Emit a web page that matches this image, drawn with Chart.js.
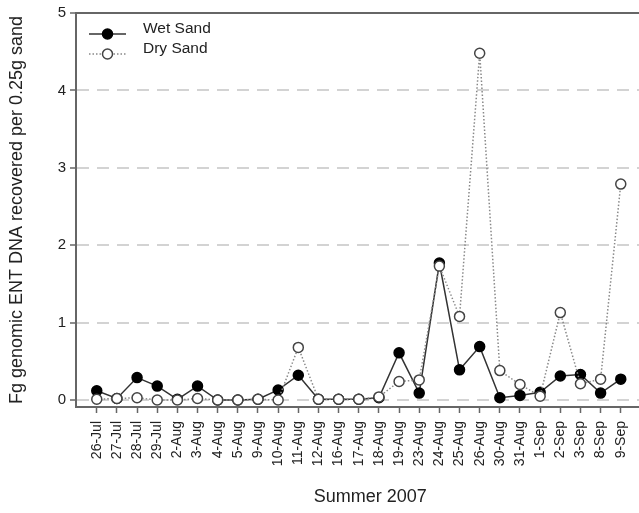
<!DOCTYPE html>
<html>
<head>
<meta charset="utf-8">
<script src="https://cdn.jsdelivr.net/npm/chart.js@4"></script>
<style>
  html, body { margin: 0; padding: 0; overflow: hidden; background: #fff; }
  canvas { display: block; }
</style>
</head>
<body>
<canvas id="chart" width="671" height="513"></canvas>
<script>
const dates = ['26-Jul', '27-Jul', '28-Jul', '29-Jul', '2-Aug', '3-Aug', '4-Aug', '5-Aug', '9-Aug',
    '10-Aug', '11-Aug', '12-Aug', '16-Aug', '17-Aug', '18-Aug', '19-Aug', '23-Aug', '24-Aug',
    '25-Aug', '26-Aug', '30-Aug', '31-Aug', '1-Sep', '2-Sep', '3-Sep', '8-Sep', '9-Sep'];
const wetSand = [0.12, 0.02, 0.29, 0.18, 0.01, 0.18, 0.0, 0.0, 0.01,
    0.13, 0.32, 0.01, 0.01, 0.01, 0.03, 0.61, 0.09, 1.77,
    0.39, 0.69, 0.03, 0.06, 0.10, 0.31, 0.33, 0.09, 0.27];
const drySand = [0.01, 0.02, 0.03, 0.0, 0.0, 0.02, 0.0, 0.0, 0.01,
    0.0, 0.68, 0.01, 0.01, 0.01, 0.04, 0.24, 0.26, 1.73,
    1.08, 4.48, 0.38, 0.20, 0.05, 1.13, 0.21, 0.27, 2.79];
const yTicks = [0, 1, 2, 3, 4, 5];

const family = '"Liberation Sans", Arial, sans-serif';

// legend drawn inside the plot, top left
const legendBox = {
    id: 'legendBox',
    afterDraw(chart) {
        const ctx = chart.ctx;
        const rows = [
            { ds: chart.data.datasets[1], y: 34 },
            { ds: chart.data.datasets[0], y: 54 }
        ];
        ctx.save();
        rows.forEach(r => {
            ctx.beginPath();
            ctx.setLineDash(r.ds.borderDash || []);
            ctx.lineWidth = r.ds.borderWidth;
            ctx.strokeStyle = r.ds.borderColor;
            ctx.moveTo(89, r.y);
            ctx.lineTo(126, r.y);
            ctx.stroke();
            ctx.setLineDash([]);
            ctx.beginPath();
            ctx.arc(107.5, r.y, r.ds.pointRadius, 0, Math.PI * 2);
            ctx.fillStyle = r.ds.pointBackgroundColor;
            ctx.fill();
            ctx.lineWidth = r.ds.pointBorderWidth;
            ctx.strokeStyle = r.ds.pointBorderColor;
            ctx.stroke();
            ctx.fillStyle = '#222';
            ctx.font = '15.5px ' + family;
            ctx.textBaseline = 'alphabetic';
            ctx.fillText(r.ds.label, 143, r.y - 1);
        });
        // top frame line
        const a = chart.chartArea;
        ctx.beginPath();
        ctx.lineWidth = 2;
        ctx.strokeStyle = '#666';
        ctx.moveTo(a.left - 1, a.top);
        ctx.lineTo(chart.width, a.top);
        ctx.stroke();
        ctx.restore();
    }
};

new Chart(document.getElementById('chart'), {
    type: 'line',
    data: {
        datasets: [{
            label: 'Dry Sand',
            data: drySand.map((v, i) => ({ x: i, y: v })),
            borderColor: '#888',
            borderWidth: 1.5,
            borderDash: [1.5, 2],
            pointRadius: 5,
            pointHoverRadius: 5,
            pointBackgroundColor: '#fff',
            pointBorderColor: '#444',
            pointBorderWidth: 1.5,
            tension: 0,
            order: 0
        }, {
            label: 'Wet Sand',
            data: wetSand.map((v, i) => ({ x: i, y: v })),
            borderColor: '#333',
            borderWidth: 1.5,
            pointRadius: 5,
            pointHoverRadius: 5,
            pointBackgroundColor: '#000',
            pointBorderColor: '#000',
            pointBorderWidth: 1.5,
            tension: 0,
            order: 1
        }]
    },
    options: {
        responsive: false,
        animation: false,
        events: [],
        layout: { padding: { top: 13, left: 0, right: 0, bottom: 0 } },
        plugins: {
            legend: { display: false },
            tooltip: { enabled: false }
        },
        scales: {
            x: {
                type: 'linear',
                min: -1.03,
                max: 28.17,
                afterBuildTicks: s => { s.ticks = dates.map((_, i) => ({ value: i })); },
                afterFit: s => { s.height = 106; },
                ticks: {
                    autoSkip: false,
                    minRotation: 90,
                    maxRotation: 90,
                    padding: 8,
                    color: '#222',
                    font: { size: 14, family },
                    callback: v => dates[v]
                },
                grid: {
                    drawOnChartArea: false,
                    drawTicks: true,
                    tickLength: 6,
                    tickColor: '#666',
                    tickWidth: 1.5
                },
                border: { display: true, color: '#666', width: 2 },
                title: {
                    display: true,
                    text: 'Summer 2007',
                    color: '#222',
                    font: { size: 18, family },
                    padding: { top: 0, bottom: 5 }
                }
            },
            y: {
                min: -0.09,
                max: 5,
                afterBuildTicks: s => { s.ticks = yTicks.map(v => ({ value: v })); },
                afterFit: s => { s.width = 76; },
                ticks: {
                    padding: 4,
                    color: '#222',
                    font: { size: 15, family }
                },
                grid: {
                    color: c => (c.tick && c.tick.value === 5) ? 'rgba(0,0,0,0)' : '#d3d3d3',
                    lineWidth: 2,
                    tickLength: 6,
                    tickColor: '#666',
                    tickWidth: 1.5
                },
                border: { display: true, color: '#666', width: 2, dash: [12, 8] },
                title: {
                    display: true,
                    text: 'Fg genomic ENT DNA recovered per 0.25g sand',
                    color: '#222',
                    font: { size: 18, family },
                    padding: { top: 6, bottom: 0 }
                }
            }
        }
    },
    plugins: [legendBox]
});
</script>
</body>
</html>
